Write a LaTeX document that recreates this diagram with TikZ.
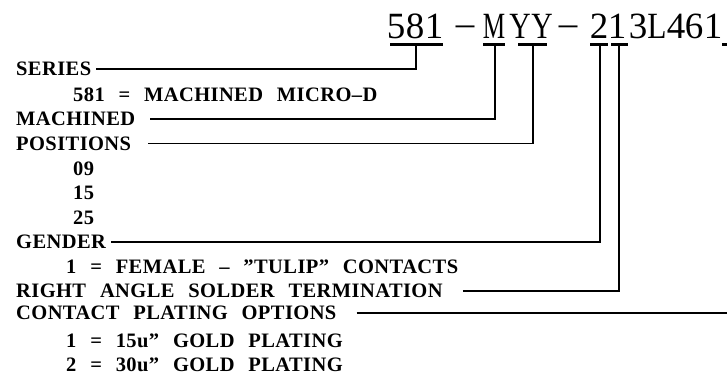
\documentclass[tikz,border=0pt]{standalone}
\usepackage{fontspec}
\usepackage{graphicx}
\usetikzlibrary{positioning}
\newfontfamily\cadfont[LetterSpace=2,WordSpace=2.5]{Liberation Serif Bold}
\newfontfamily\partfont{Liberation Serif}

\begin{document}
\begin{tikzpicture}[x=1pt, y=-1pt,
    lbl/.style={anchor=west, inner sep=0pt, text height=13.6pt, text depth=0pt, font=\cadfont\fontsize{20.5}{24}\selectfont},
    pchar/.style={anchor=base, inner sep=0pt, font=\partfont\fontsize{37}{40}\selectfont},
    uline/.style={line width=3.5pt},
    lead/.style={line width=1.4pt}]
  \useasboundingbox (0,0) rectangle (727,378);
  % part number, one character at a time
  \foreach \x/\c [count=\i] in {396/5, 415/8, 434/1, 465/{\raisebox{2.5pt}{\textendash}}, 494/{\scalebox{0.68}[1]{M}}, 520/{\scalebox{0.8}[1]{Y}}, 542/{\scalebox{0.8}[1]{Y}}, 568/{\raisebox{2.5pt}{\textendash}}, 599/2, 617/1, 638/3, 657/{\scalebox{0.85}[1]{L}}, 676/4, 694/6, 713/1}
    \node[pchar] (p\i) at (\x,38) {\c};
  \foreach \a/\b in {390/443, 483/505, 518/547, 590/608, 611/628, 722/727}
    \draw[uline] (\a,44.5) -- (\b,44.5);
  \coordinate (u581) at (416,45);
  \coordinate (uM) at (495,45);
  \coordinate (uY) at (533,45);
  \coordinate (u2) at (600,45);
  \coordinate (u1) at (619,45);
  \coordinate (redge) at (727,0);
  % option list
  \foreach \y/\name/\x/\txt in {69/series/16/SERIES, 95/sernote/73/{581 = MACHINED MICRO\textendash D}, 119/machined/16/MACHINED, 143.5/positions/16/POSITIONS, 168.5/pos09/73/09, 193/pos15/73/15, 217.5/pos25/73/25, 242/gender/16/GENDER, 267/gennote/66/{1 = FEMALE \textendash{} ”TULIP” CONTACTS}, 291/rightangle/16/{RIGHT ANGLE SOLDER TERMINATION}, 313/plating/16/{CONTACT PLATING OPTIONS}, 340.5/plate1/66/{1 = 15u” GOLD PLATING}, 365/plate2/66/{2 = 30u” GOLD PLATING}}
    \node[lbl] (\name) at (\x,\y) {\txt};
  \draw[lead] ([xshift=5pt]series.east) -| (u581);
  \draw[lead] ([xshift=15pt]machined.east) -| (uM);
  \draw[lead] ([xshift=17pt]positions.east) -| (uY);
  \draw[lead] ([xshift=5pt]gender.east) -| (u2);
  \draw[lead] ([xshift=20pt]rightangle.east) -| (u1);
  \draw[lead] ([xshift=20pt]plating.east) -- (plating.east -| redge);
\end{tikzpicture}
\end{document}
